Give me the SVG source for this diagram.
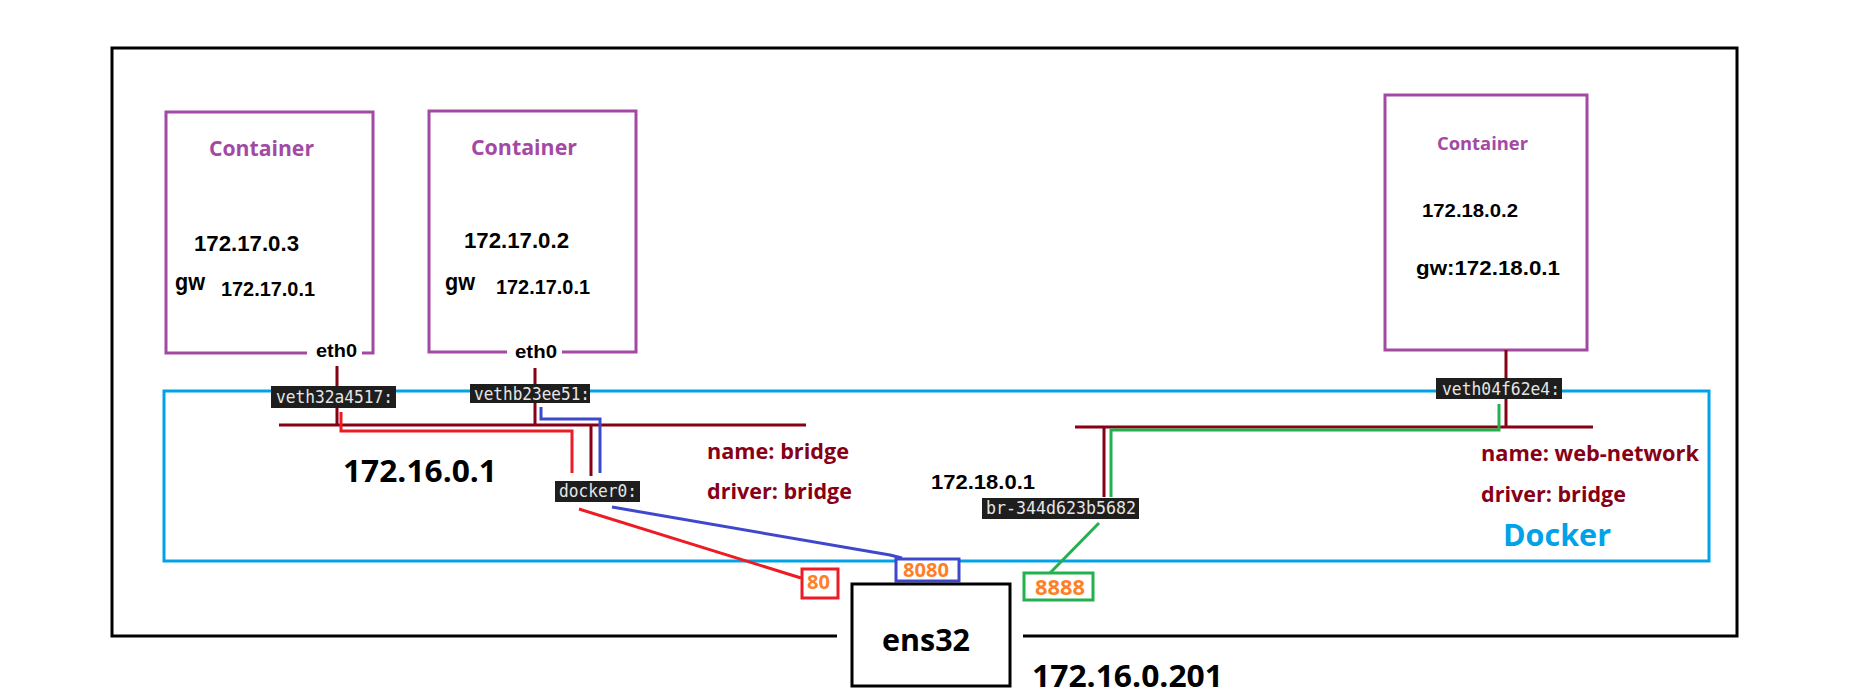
<svg xmlns="http://www.w3.org/2000/svg" width="1868" height="697" viewBox="0 0 1868 697">
<style>
.frame{fill:none;stroke:#000;stroke-width:3}
.cont{fill:none;stroke:#A349A4;stroke-width:3}
.dock{fill:none;stroke:#00A2E8;stroke-width:3}
.dr{fill:none;stroke:#880015;stroke-width:3}
.rd{fill:none;stroke:#ED1C24;stroke-width:3}
.bl{fill:none;stroke:#3F48CC;stroke-width:3}
.gr{fill:none;stroke:#22B14C;stroke-width:3}
.ctitle{font-family:"Open Sans","Noto Sans",sans-serif;font-weight:bold;fill:#A349A4}
.ip{font-family:"Liberation Sans",Arial,sans-serif;font-weight:bold;fill:#000}
.big{font-family:"Open Sans","Noto Sans",sans-serif;font-weight:bold;fill:#000}
.net{font-family:"Open Sans","Noto Sans",sans-serif;font-weight:bold;fill:#880015;font-size:21px}
.port{font-family:"Open Sans","Noto Sans",sans-serif;font-weight:bold;fill:#FF7F27}
.tagbg{fill:#1E1E1E}
.tag{font-family:"DejaVu Sans Mono","Liberation Mono",monospace;fill:#E6E6E6;font-size:17.5px}
</style>

<g id="host">
<polyline class="frame" points="837,636 112,636 112,48 1737,48 1737,636 1023,636"/>
</g>

<g id="docker">
<rect class="dock" x="164" y="391" width="1545" height="170"/>
<text x="1503" y="546" font-family="Open Sans, Noto Sans, sans-serif" font-weight="bold" font-size="31" fill="#00A2E8" textLength="108" lengthAdjust="spacingAndGlyphs">Docker</text>
</g>

<g id="container1">
<polyline class="cont" points="307,353 166,353 166,112 373,112 373,353 362,353"/>
<text class="ctitle" x="209" y="156" font-size="21" textLength="105" lengthAdjust="spacingAndGlyphs">Container</text>
<text class="ip" x="194" y="251" font-size="22" textLength="105" lengthAdjust="spacingAndGlyphs">172.17.0.3</text>
<text class="ip" x="175" y="290" font-size="24" textLength="30" lengthAdjust="spacingAndGlyphs">gw</text>
<text class="ip" x="221" y="296" font-size="20" textLength="94" lengthAdjust="spacingAndGlyphs">172.17.0.1</text>
<text class="ip" x="316" y="357" font-size="18" textLength="41" lengthAdjust="spacingAndGlyphs">eth0</text>
</g>

<g id="container2">
<polyline class="cont" points="507,352 429,352 429,111 636,111 636,352 562,352"/>
<text class="ctitle" x="471" y="155" font-size="21" textLength="106" lengthAdjust="spacingAndGlyphs">Container</text>
<text class="ip" x="464" y="248" font-size="22" textLength="105" lengthAdjust="spacingAndGlyphs">172.17.0.2</text>
<text class="ip" x="445" y="290" font-size="24" textLength="30" lengthAdjust="spacingAndGlyphs">gw</text>
<text class="ip" x="496" y="294" font-size="20" textLength="94" lengthAdjust="spacingAndGlyphs">172.17.0.1</text>
<text class="ip" x="515" y="358" font-size="18" textLength="42" lengthAdjust="spacingAndGlyphs">eth0</text>
</g>

<g id="container3">
<rect class="cont" x="1385" y="95" width="202" height="255"/>
<text class="ctitle" x="1437" y="150" font-size="18" textLength="91" lengthAdjust="spacingAndGlyphs">Container</text>
<text class="ip" x="1422" y="217" font-size="19" textLength="96" lengthAdjust="spacingAndGlyphs">172.18.0.2</text>
<text class="ip" x="1416" y="275" font-size="21" textLength="144" lengthAdjust="spacingAndGlyphs">gw:172.18.0.1</text>
</g>

<g id="connectors">
<line class="dr" x1="337" y1="366" x2="337" y2="425"/>
<line class="dr" x1="535" y1="368" x2="535" y2="425"/>
<line class="dr" x1="279" y1="425" x2="806" y2="425"/>
<line class="dr" x1="591" y1="425" x2="591" y2="476"/>
<polyline class="rd" points="341,412 341,431 572,431 572,473"/>
<polyline class="bl" points="541,407 541,419 600,419 600,473"/>
<line class="rd" x1="579" y1="509" x2="801" y2="578"/>
<polyline class="bl" points="612,507 890,555 902,558"/>
<line class="dr" x1="1506" y1="350" x2="1506" y2="427"/>
<line class="dr" x1="1075" y1="427" x2="1593" y2="427"/>
<line class="dr" x1="1104" y1="427" x2="1104" y2="497"/>
<polyline class="gr" points="1499,404 1499,430 1111,430 1111,497"/>
<line class="gr" x1="1099" y1="523" x2="1050" y2="573"/>
</g>

<g id="veth32a4517">
<rect class="tagbg" x="271" y="386" width="125" height="22"/>
<text class="tag" x="276" y="403" textLength="117" lengthAdjust="spacingAndGlyphs">veth32a4517:</text>
</g>
<g id="vethb23ee51">
<rect class="tagbg" x="470" y="384" width="120" height="19"/>
<text class="tag" x="474" y="400" textLength="116" lengthAdjust="spacingAndGlyphs">vethb23ee51:</text>
</g>
<g id="veth04f62e4">
<rect class="tagbg" x="1436" y="378" width="126" height="21"/>
<text class="tag" x="1442" y="395" textLength="118" lengthAdjust="spacingAndGlyphs">veth04f62e4:</text>
</g>

<g id="docker0">
<rect class="tagbg" x="555" y="481" width="85" height="21"/>
<text class="tag" x="559" y="497" textLength="78" lengthAdjust="spacingAndGlyphs">docker0:</text>
<text class="big" x="343" y="482" font-size="30" textLength="154" lengthAdjust="spacingAndGlyphs">172.16.0.1</text>
<text class="net" x="707" y="459" textLength="142" lengthAdjust="spacingAndGlyphs">name: bridge</text>
<text class="net" x="707" y="499" textLength="145" lengthAdjust="spacingAndGlyphs">driver: bridge</text>
</g>

<g id="br-344d623b5682">
<rect class="tagbg" x="982" y="498" width="157" height="21"/>
<text class="tag" x="986" y="514" textLength="150" lengthAdjust="spacingAndGlyphs">br-344d623b5682</text>
<text class="ip" x="931" y="489" font-size="21" textLength="104" lengthAdjust="spacingAndGlyphs">172.18.0.1</text>
<text class="net" x="1481" y="461" textLength="218" lengthAdjust="spacingAndGlyphs">name: web-network</text>
<text class="net" x="1481" y="502" textLength="145" lengthAdjust="spacingAndGlyphs">driver: bridge</text>
</g>

<g id="port80">
<rect x="802" y="569" width="36" height="29" fill="#fff" stroke="#ED1C24" stroke-width="3"/>
<text class="port" x="807" y="589" font-size="19" textLength="23" lengthAdjust="spacingAndGlyphs">80</text>
</g>
<g id="port8080">
<rect x="896" y="559" width="63" height="22" fill="#fff" stroke="#3F48CC" stroke-width="3"/>
<text class="port" x="903" y="577" font-size="19" textLength="46" lengthAdjust="spacingAndGlyphs">8080</text>
</g>
<g id="port8888">
<rect x="1024" y="573" width="69" height="27" fill="#fff" stroke="#22B14C" stroke-width="3"/>
<text class="port" x="1035" y="595" font-size="21" textLength="50" lengthAdjust="spacingAndGlyphs">8888</text>
</g>

<g id="ens32">
<rect x="852" y="584" width="158" height="102" fill="#fff" stroke="#000" stroke-width="3"/>
<text class="big" x="882" y="651" font-size="30" textLength="88" lengthAdjust="spacingAndGlyphs">ens32</text>
<text class="big" x="1032" y="687" font-size="30" textLength="191" lengthAdjust="spacingAndGlyphs">172.16.0.201</text>
</g>
</svg>
